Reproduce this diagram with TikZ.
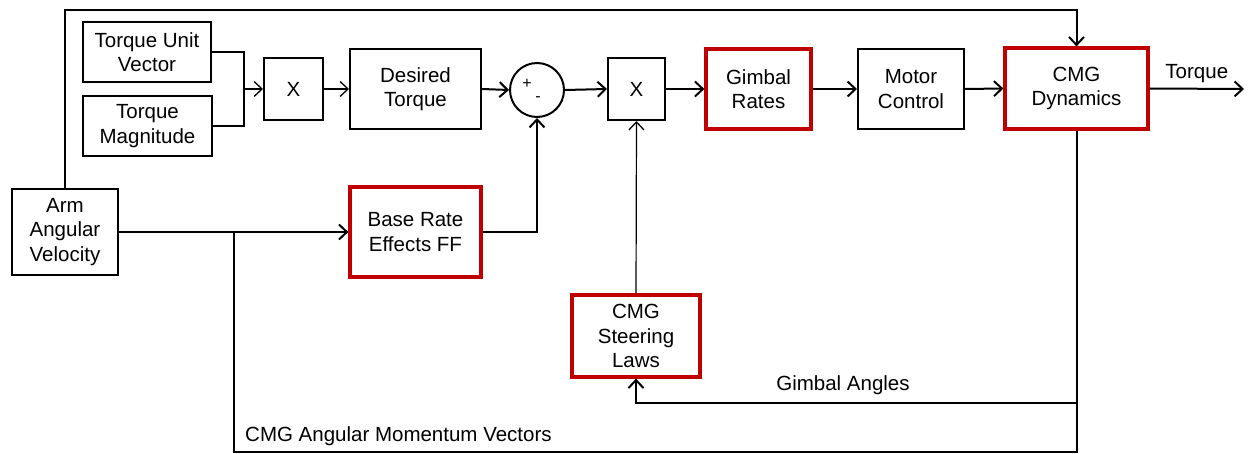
\documentclass[tikz,border=0pt]{standalone}
\usepackage{fontspec}
\setmainfont{Liberation Sans}
\usetikzlibrary{arrows.meta}
\definecolor{cmgred}{HTML}{C00000}
\begin{document}
\begin{tikzpicture}[x=1pt,y=-1pt,
  font=\fontsize{20.5}{24.5}\selectfont,
  blk/.style={draw, line width=2pt, align=center, inner sep=0pt},
  redblk/.style={draw=cmgred, line width=3.2pt, align=center, inner sep=0pt},
  wire/.style={line width=2pt},
  thinwire/.style={line width=1.2pt},
  arr/.style={-{Straight Barb[length=8pt,width=15pt,line width=2pt]}},
  thinarr/.style={-{Straight Barb[length=8pt,width=15pt,line width=1.3pt]}}
]
\useasboundingbox (0,0) rectangle (1248,454);

% blocks
\node[blk, minimum width=128pt, minimum height=60pt] (tuv) at (147,52) {Torque Unit\\Vector};
\node[blk, minimum width=129pt, minimum height=60pt] (tm) at (147.5,126) {Torque\\Magnitude};
\node[blk, minimum width=59pt, minimum height=62pt] (x1) at (293.5,89) {X};
\node[blk, minimum width=131pt, minimum height=80pt] (dt) at (415.5,89) {Desired\\Torque};
\node[draw, circle, line width=2pt, minimum size=54pt, inner sep=0pt] (sum) at (537,90) {};
\node[font=\fontsize{16}{16}\selectfont] (plus) at (527,84) {+};
\node[font=\fontsize{16}{16}\selectfont] (minus) at (538,99) {-};
\node[blk, minimum width=57pt, minimum height=62pt] (x2) at (636.5,89) {X};
\node[redblk, minimum width=105pt, minimum height=80pt] (gr) at (758.5,89) {Gimbal\\Rates};
\node[blk, minimum width=106pt, minimum height=80pt] (mc) at (911,89) {Motor\\Control};
\node[redblk, minimum width=143pt, minimum height=81pt] (cmg) at (1076.5,88.5) {CMG\\Dynamics};
\node[blk, minimum width=106pt, minimum height=86pt] (arm) at (65,232) {Arm\\Angular\\Velocity};
\node[redblk, minimum width=131pt, minimum height=90pt] (brf) at (415.5,232) {Base Rate\\Effects FF};
\node[redblk, minimum width=128pt, minimum height=82pt] (csl) at (636,336) {CMG\\Steering\\Laws};

% junctions and free ends
\coordinate (j1) at (244,89);
\coordinate (jarm) at (234,232);
\coordinate (out) at (1244,89);
\coordinate (topc) at (1076.5,10);
\coordinate (ga) at (1076.5,403);
\coordinate (bot) at (1076.5,452);

% connectors
\draw[thinwire] (tuv.east) -| (j1);
\draw[thinwire] (tm.east) -| (j1);
\draw[thinwire, thinarr] (j1) -- (x1.west);
\draw[thinwire, thinarr] (x1.east) -- (dt.west);
\draw[wire, arr] (dt.east) -- (sum.west);
\draw[wire, arr] (sum.east) -- (x2.west);
\draw[wire, arr] (x2.east) -- (gr.west);
\draw[wire, arr] (gr.east) -- (mc.west);
\draw[wire, arr] (mc.east) -- (cmg.west);
\draw[wire, arr] (cmg.east) -- (out) node[pos=0.5, above=5pt, inner sep=0pt] (tq) {Torque};
\draw[wire, arr] (arm.north) |- (topc) -- (cmg.north);
\draw[wire, arr] (arm.east) -- (brf.west);
\draw[wire, arr] (brf.east) -| (sum.south);
\draw[thinwire, thinarr] (csl.north) -- (x2.south);
\draw[wire] (cmg.south) -- (bot) -| (jarm);
\draw[wire, arr] (ga) -| (csl.south);

% signal labels
\node (galbl) at (843,385) {Gimbal Angles};
\node[anchor=west, inner sep=0pt] (hlbl) at (245,436) {CMG Angular Momentum Vectors};
\end{tikzpicture}
\end{document}
